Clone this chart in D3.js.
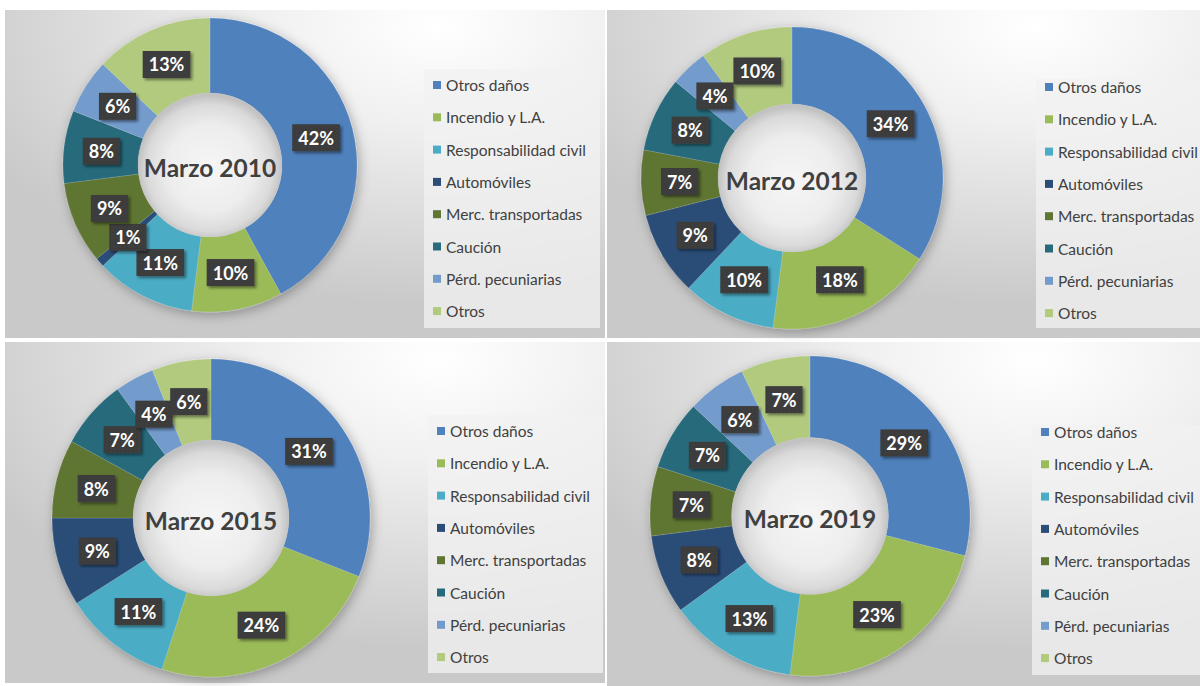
<!DOCTYPE html>
<html>
<head>
<meta charset="utf-8">
<script src="https://cdn.jsdelivr.net/npm/d3@7"></script>
<style>
  body { margin: 0; background: #ffffff; }
  svg { display: block; }
</style>
</head>
<body>
<div id="chart"></div>
<script>
// Chart data
var categories = ["Otros daños", "Incendio y L.A.", "Responsabilidad civil", "Automóviles",
  "Merc. transportadas", "Caución", "Pérd. pecuniarias", "Otros"];
var titles = ["Marzo 2010", "Marzo 2012", "Marzo 2015", "Marzo 2019"];
var values2010 = [42, 10, 11, 1, 9, 8, 6, 13];
var values2012 = [34, 18, 10, 9, 7, 8, 4, 10];
var values2015 = [31, 24, 11, 9, 8, 7, 4, 6];
var values2019 = [29, 23, 13, 8, 7, 7, 6, 7];
var series = [values2010, values2012, values2015, values2019];

var colors = ["#4f81bd", "#9bbb59", "#4bacc6", "#2c4d78", "#5f7532", "#266a7c", "#739bcc", "#b1ca7e"];

// Panel layout
var svgWidth = 1200;
var svgHeight = 686;
var panels = [
  { x: 5, y: 10, w: 600, h: 328, cx: 210, cy: 165, r: 147, lx: 424, ly: 69, lw: 176, lh: 259, ty: 85 },
  { x: 607, y: 10, w: 593, h: 328, cx: 792, cy: 178, r: 151, lx: 1036, ly: 79, lw: 170, lh: 249, ty: 87 },
  { x: 5, y: 342, w: 600, h: 341, cx: 211, cy: 518, r: 159, lx: 428, ly: 415, lw: 175, lh: 258, ty: 431 },
  { x: 607, y: 342, w: 593, h: 344, cx: 810, cy: 516, r: 160, lx: 1032, ly: 425, lw: 170, lh: 250, ty: 432 }
];
var legendStep = 32.3;

var svg = d3.select("#chart")
  .append("svg")
  .attr("width", svgWidth)
  .attr("height", svgHeight);

var defs = svg.append("defs");

// background of each chart panel
var bg = defs.append("radialGradient")
  .attr("id", "panelBg")
  .attr("cx", "0.72").attr("cy", "0.05").attr("r", "0.85");
bg.append("stop").attr("offset", "0").attr("stop-color", "#ffffff");
bg.append("stop").attr("offset", "0.35").attr("stop-color", "#f0f0f0");
bg.append("stop").attr("offset", "1").attr("stop-color", "#c9c9c9");

// shading of the donut hole
var hole = defs.append("radialGradient")
  .attr("id", "holeBg")
  .attr("cx", "0.5").attr("cy", "0.52").attr("r", "0.5");
hole.append("stop").attr("offset", "0").attr("stop-color", "#f6f6f6");
hole.append("stop").attr("offset", "0.6").attr("stop-color", "#ededed");
hole.append("stop").attr("offset", "0.88").attr("stop-color", "#dadada");
hole.append("stop").attr("offset", "1").attr("stop-color", "#c2c2c2");

// dotted texture for data label boxes
var dots = defs.append("pattern")
  .attr("id", "dots")
  .attr("width", 4).attr("height", 4)
  .attr("patternUnits", "userSpaceOnUse");
dots.append("rect").attr("width", 4).attr("height", 4).attr("fill", "#3a3a3a");
dots.append("circle").attr("cx", 1).attr("cy", 1).attr("r", 0.6).attr("fill", "#555555");
dots.append("circle").attr("cx", 3).attr("cy", 3).attr("r", 0.6).attr("fill", "#484848");

var ringShadow = defs.append("filter").attr("id", "ringShadow")
  .attr("x", "-20%").attr("y", "-20%").attr("width", "140%").attr("height", "140%");
ringShadow.append("feDropShadow")
  .attr("dx", 2).attr("dy", 3).attr("stdDeviation", 6)
  .attr("flood-color", "#000").attr("flood-opacity", 0.3);

var boxShadow = defs.append("filter").attr("id", "boxShadow")
  .attr("x", "-30%").attr("y", "-30%").attr("width", "160%").attr("height", "160%");
boxShadow.append("feDropShadow")
  .attr("dx", 2).attr("dy", 2).attr("stdDeviation", 1.5)
  .attr("flood-color", "#000").attr("flood-opacity", 0.45);

var pie = d3.pie().sort(null).value(function(d) { return d; });

panels.forEach(function(p, i) {
  var g = svg.append("g");

  g.append("rect")
    .attr("x", p.x).attr("y", p.y)
    .attr("width", p.w).attr("height", p.h)
    .attr("fill", "url(#panelBg)");

  var inner = p.r * 0.49;
  var arc = d3.arc().innerRadius(inner).outerRadius(p.r);
  var arcs = pie(series[i]);

  var chart = g.append("g").attr("transform", `translate(${p.cx}, ${p.cy})`);

  // Ring
  chart.append("g")
    .attr("filter", "url(#ringShadow)")
    .selectAll("path")
    .data(arcs)
    .enter()
    .append("path")
    .attr("d", arc)
    .attr("fill", function(d, j) { return colors[j]; })
    .attr("stroke", "#ffffff")
    .attr("stroke-opacity", 0.25)
    .attr("stroke-width", 0.5);

  chart.append("circle")
    .attr("r", inner)
    .attr("fill", "url(#holeBg)");

  chart.append("text")
    .attr("y", 2)
    .attr("text-anchor", "middle")
    .attr("dominant-baseline", "central")
    .style("font-family", "Lato, 'Open Sans', sans-serif")
    .style("font-weight", "bold")
    .style("font-size", "24.5px")
    .style("fill", "#404040")
    .text(titles[i]);

  // Data labels
  var labels = chart.selectAll(".lbl")
    .data(arcs)
    .enter()
    .append("g")
    .attr("class", "lbl")
    .attr("transform", function(d) {
      var c = arc.centroid(d);
      return `translate(${c[0]}, ${c[1]})`;
    });

  labels.append("text")
    .attr("text-anchor", "middle")
    .attr("dominant-baseline", "central")
    .style("font-family", "Lato, 'Open Sans', sans-serif")
    .style("font-weight", "bold")
    .style("font-size", "18px")
    .style("fill", "#ffffff")
    .text(function(d) { return d.value + "%"; });

  labels.each(function() {
    var lg = d3.select(this);
    var tw = lg.select("text").node().getComputedTextLength();
    lg.insert("rect", "text")
      .attr("x", -tw / 2 - 6)
      .attr("y", -13.5)
      .attr("width", tw + 12)
      .attr("height", 27)
      .attr("fill", "url(#dots)")
      .attr("filter", "url(#boxShadow)");
  });

  // Legend
  g.append("rect")
    .attr("x", p.lx).attr("y", p.ly)
    .attr("width", p.lw).attr("height", p.lh)
    .attr("fill", "#f2f2f2")
    .attr("fill-opacity", 0.75);

  var legend = g.selectAll(".leg")
    .data(categories)
    .enter()
    .append("g")
    .attr("class", "leg")
    .attr("transform", function(d, j) {
      return `translate(${p.lx + 9}, ${p.ty + j * legendStep})`;
    });

  legend.append("rect")
    .attr("x", 0).attr("y", -4)
    .attr("width", 8).attr("height", 8)
    .attr("fill", function(d, j) { return colors[j]; });

  legend.append("text")
    .attr("x", 13)
    .attr("dominant-baseline", "central")
    .style("font-family", "Lato, 'Open Sans', sans-serif")
    .style("font-size", "15.5px")
    .style("fill", "#404040")
    .text(function(d) { return d; });
});
</script>
</body>
</html>
